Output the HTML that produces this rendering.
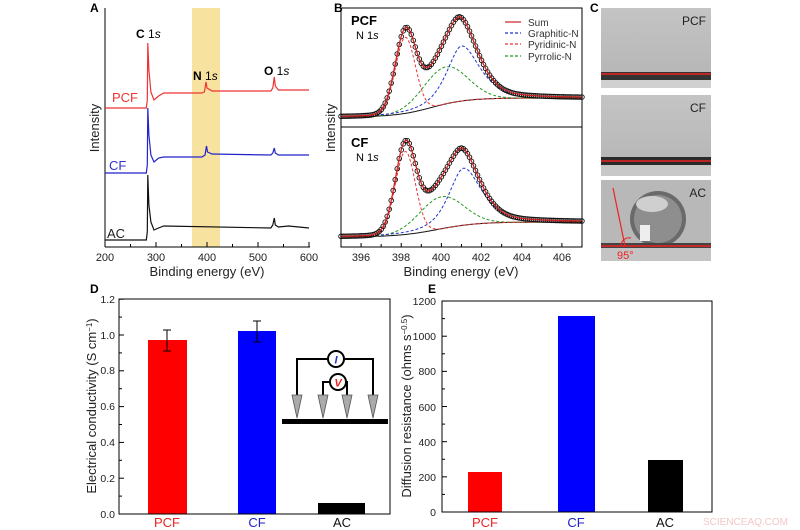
<!DOCTYPE html>
<html><head><meta charset="utf-8"><style>
body{margin:0;background:#fff}
svg{display:block;font-family:"Liberation Sans",Arial,sans-serif}
</style></head><body>
<svg id="s" width="800" height="530" viewBox="0 0 800 530" xmlns="http://www.w3.org/2000/svg">
<g font-weight="bold" font-size="12" fill="#000">
<text x="90" y="12">A</text><text x="334" y="12">B</text><text x="590" y="12">C</text>
<text x="90" y="293">D</text><text x="428" y="293">E</text>
</g>
<!-- Panel A -->
<rect x="192" y="8" width="28" height="239" fill="#f8e2a0"/>
<g stroke="#000" stroke-width="1" fill="none">
<line x1="105" y1="8" x2="105" y2="247"/><line x1="105" y1="247" x2="310" y2="247"/>
</g>
<g id="aticks" stroke="#000"></g>
<g font-size="11" fill="#222" text-anchor="middle">
<text x="105" y="261">200</text><text x="156" y="261">300</text><text x="207" y="261">400</text><text x="258" y="261">500</text><text x="309" y="261">600</text>
<text x="207" y="276" font-size="13">Binding energy (eV)</text>
</g>
<text transform="translate(99,128) rotate(-90)" font-size="13" text-anchor="middle" fill="#222">Intensity</text>
<g id="aspec" fill="none" stroke-width="1.2"></g>
<text x="112" y="102" fill="#e33" font-size="13">PCF</text>
<text x="109" y="170" fill="#33c" font-size="13">CF</text>
<text x="107" y="238" fill="#222" font-size="13">AC</text>
<text x="136" y="38" font-size="12"><tspan font-weight="bold">C</tspan> 1<tspan font-style="italic">s</tspan></text>
<text x="193" y="80" font-size="12"><tspan font-weight="bold">N</tspan> 1<tspan font-style="italic">s</tspan></text>
<text x="264" y="75" font-size="12"><tspan font-weight="bold">O</tspan> 1<tspan font-style="italic">s</tspan></text>
<!-- Panel B -->
<g id="bplot"></g>
<rect x="341" y="8" width="241" height="239" fill="none" stroke="#000"/>
<line x1="341" y1="127" x2="582" y2="127" stroke="#000"/>
<g id="bticks" stroke="#000"></g>
<g font-size="11" fill="#222" text-anchor="middle">
<text x="361" y="261">396</text><text x="401" y="261">398</text><text x="441" y="261">400</text><text x="481" y="261">402</text><text x="522" y="261">404</text><text x="562" y="261">406</text>
<text x="461" y="276" font-size="13">Binding energy (eV)</text>
</g>
<text transform="translate(335,128) rotate(-90)" font-size="13" text-anchor="middle" fill="#222">Intensity</text>
<text x="351" y="25" font-size="13" font-weight="bold">PCF</text>
<text x="356" y="39" font-size="11">N 1<tspan font-style="italic">s</tspan></text>
<text x="351" y="147" font-size="13" font-weight="bold">CF</text>
<text x="356" y="161" font-size="11">N 1<tspan font-style="italic">s</tspan></text>
<g font-size="10" fill="#333">
<line x1="505" y1="22" x2="521" y2="22" stroke="#c22" stroke-width="1.2"/><text x="528" y="26">Sum</text>
<line x1="505" y1="33" x2="521" y2="33" stroke="#23c" stroke-dasharray="3,2" stroke-width="1.2"/><text x="528" y="37">Graphitic-N</text>
<line x1="505" y1="44" x2="521" y2="44" stroke="#e33" stroke-dasharray="3,2" stroke-width="1.2"/><text x="528" y="48">Pyridinic-N</text>
<line x1="505" y1="56" x2="521" y2="56" stroke="#292" stroke-dasharray="3,2" stroke-width="1.2"/><text x="528" y="60">Pyrrolic-N</text>
</g>
<!-- Panel C -->
<defs>
<linearGradient id="g1" x1="0" y1="0" x2="0" y2="1"><stop offset="0" stop-color="#c4c4c4"/><stop offset="1" stop-color="#b4b4b4"/></linearGradient>
</defs>
<rect x="601" y="8" width="110" height="80" fill="url(#g1)"/>
<rect x="601" y="72" width="110" height="8" fill="#333"/>
<rect x="601" y="80" width="110" height="8" fill="#d0d0d0"/>
<line x1="601" y1="74" x2="711" y2="74" stroke="#e22" stroke-width="1.5"/>
<text x="706" y="25" font-size="12" text-anchor="end" fill="#222">PCF</text>
<rect x="601" y="95" width="110" height="81" fill="url(#g1)"/>
<rect x="601" y="157" width="110" height="8" fill="#2a2a2a"/>
<rect x="601" y="165" width="110" height="11" fill="#c8c8c8"/>
<line x1="601" y1="161" x2="711" y2="161" stroke="#e22" stroke-width="1.5"/>
<text x="706" y="112" font-size="12" text-anchor="end" fill="#222">CF</text>
<rect x="601" y="180" width="110" height="81" fill="#b8b8b8"/>
<clipPath id="cl"><rect x="601" y="180" width="110" height="66"/></clipPath>
<g clip-path="url(#cl)">
<circle cx="658" cy="219" r="28" fill="#6a6a6a"/>
<circle cx="658" cy="219" r="24" fill="#8e8e8e"/>
<ellipse cx="652" cy="204" rx="16" ry="8" fill="#cfcfcf"/>
<rect x="640" y="225" width="10" height="16" fill="#eee"/>
</g>
<rect x="601" y="243" width="110" height="5" fill="#444"/>
<rect x="601" y="248" width="110" height="13" fill="#c4c4c4"/>
<line x1="601" y1="246" x2="711" y2="246" stroke="#e22" stroke-width="1.5"/>
<line x1="613" y1="188" x2="625" y2="246" stroke="#e22" stroke-width="1.2"/>
<path d="M621 246 A8 8 0 0 1 631 238" fill="none" stroke="#e22"/>
<text x="617" y="259" font-size="11" fill="#e22">95°</text>
<text x="706" y="197" font-size="12" text-anchor="end" fill="#222">AC</text>
<!-- Panel D -->
<rect x="148" y="340" width="39" height="174" fill="#f00"/>
<rect x="238" y="331" width="38" height="183" fill="#00f"/>
<rect x="318" y="503" width="47" height="11" fill="#000"/>
<g stroke="#000">
<line x1="167" y1="330" x2="167" y2="351"/><line x1="163" y1="330" x2="171" y2="330"/><line x1="163" y1="351" x2="171" y2="351"/>
<line x1="257" y1="321" x2="257" y2="342"/><line x1="253" y1="321" x2="261" y2="321"/><line x1="253" y1="342" x2="261" y2="342"/>
</g>
<rect x="119" y="299" width="271" height="215" fill="none" stroke="#000"/>
<g id="dticks" stroke="#000"></g>
<g font-size="10.5" fill="#222" text-anchor="end">
<text x="115" y="518">0.0</text><text x="115" y="482">0.2</text><text x="115" y="446">0.4</text><text x="115" y="410">0.6</text><text x="115" y="374">0.8</text><text x="115" y="339">1.0</text><text x="115" y="303">1.2</text>
</g>
<text transform="translate(96,406) rotate(-90)" font-size="13" text-anchor="middle" fill="#222">Electrical conductivity (S cm<tspan baseline-shift="super" font-size="8">−1</tspan>)</text>
<g font-size="13" text-anchor="middle">
<text x="167" y="527" fill="#e22">PCF</text><text x="257" y="527" fill="#22c">CF</text><text x="342" y="527" fill="#111">AC</text>
</g>
<g stroke="#000" stroke-width="2" fill="none">
<path d="M297 395 V359 H373 V395"/>
<path d="M323 395 V382 H347 V395"/>
</g>
<circle cx="336" cy="359" r="8" fill="#fff" stroke="#000" stroke-width="2"/>
<circle cx="338" cy="382" r="8" fill="#fff" stroke="#000" stroke-width="2"/>
<text x="336" y="363.5" font-size="11" font-style="italic" font-weight="bold" fill="#23c" text-anchor="middle">I</text>
<text x="338" y="386.5" font-size="11" font-style="italic" font-weight="bold" fill="#e22" text-anchor="middle">V</text>
<g fill="#aaa" stroke="#555" stroke-width="0.8">
<path d="M292 395 H302 L297 418 Z"/><path d="M318 395 H328 L323 418 Z"/><path d="M342 395 H352 L347 418 Z"/><path d="M368 395 H378 L373 418 Z"/>
</g>
<rect x="282" y="419" width="106" height="5" fill="#000"/>
<!-- Panel E -->
<rect x="468" y="472" width="34" height="40" fill="#f00"/>
<rect x="558" y="316" width="37" height="196" fill="#00f"/>
<rect x="648" y="460" width="35" height="52" fill="#000"/>
<rect x="442" y="301" width="270" height="211" fill="none" stroke="#000"/>
<g id="eticks" stroke="#000"></g>
<g font-size="10.5" fill="#222" text-anchor="end">
<text x="436" y="516">0</text><text x="436" y="481">200</text><text x="436" y="446">400</text><text x="436" y="411">600</text><text x="436" y="375">800</text><text x="436" y="340">1000</text><text x="436" y="305">1200</text>
</g>
<text transform="translate(411,406) rotate(-90)" font-size="13" text-anchor="middle" fill="#222">Diffusion resistance (ohms s<tspan baseline-shift="super" font-size="8">−0.5</tspan>)</text>
<g font-size="13" text-anchor="middle">
<text x="485" y="527" fill="#e22">PCF</text><text x="576" y="527" fill="#22c">CF</text><text x="665" y="527" fill="#111">AC</text>
</g>
<text x="703" y="525" font-size="10" fill="#f3c6c6">SCIENCEAQ.COM</text>
</svg>
<script>
var NS="http://www.w3.org/2000/svg";
function el(p,t,a){var e=document.createElementNS(NS,t);for(var k in a)e.setAttribute(k,a[k]);document.getElementById(p).appendChild(e);return e;}
for(var E=200;E<=600;E+=50){var x=105+(E-200)*0.51;el("aticks","line",{x1:x,x2:x,y1:247,y2:E%100?244:242});}
function poly(pts,xf){return "M"+pts.map(function(p){return xf(p[0]).toFixed(1)+","+p[1];}).join(" L");}
var ax=function(E){return 105+(E-200)*0.51;};
var PCF=[[200,108],[281,108],[283,100],[284,43],[286,70],[290,92],[296,100],[305,96],[315,93],[390,93],[395,92],[398,82],[400,88],[410,91],[450,91],[525,91],[529,88],[532,77],[534,86],[540,90],[600,90]];
var CF=[[200,173],[281,173],[283,165],[284,108],[286,135],[290,155],[296,162],[305,158],[315,157],[390,157],[396,155],[399,146],[401,152],[410,154],[525,155],[529,153],[532,148],[534,153],[540,155],[600,155]];
var AC=[[200,240],[281,240],[283,232],[284,175],[286,205],[290,222],[296,230],[305,228],[315,226],[525,228],[529,225],[532,218],[534,225],[540,227],[560,226],[600,228]];
el("aspec","path",{d:poly(PCF,ax),stroke:"#e33"});
el("aspec","path",{d:poly(CF,ax),stroke:"#22c"});
el("aspec","path",{d:poly(AC,ax),stroke:"#111"});
var bx=function(E){return 341+(E-395)*20.08;};
for(var E=395;E<=407;E+=1){el("bticks","line",{x1:bx(E),x2:bx(E),y1:247,y2:E%2?244:243});}
function sig(z){return 1/(1+Math.exp(-z));}
function panel(bg,r,b,g){
 var comps={bg:[],r:[],b:[],g:[],s:[]};
 for(var E=395;E<=407.001;E+=0.05){
  var B=bg(E);
  var R=r[0]*Math.exp(-Math.pow(E-r[1],2)/(2*r[2]*r[2]));
  var w=E>b[1]?b[2]*1.25:b[2];
  var Bl=b[0]*(0.6/(1+Math.pow((E-b[1])/w,2))+0.4*Math.exp(-Math.pow(E-b[1],2)/(2*w*w*0.9)));
  var G=g[0]*Math.exp(-Math.pow(E-g[1],2)/(2*g[2]*g[2]));
  var x=bx(E);
  comps.bg.push([x,B]);comps.r.push([x,B-R]);comps.b.push([x,B-Bl]);comps.g.push([x,B-G]);comps.s.push([x,B-R-Bl-G]);
 }
 function d(a){return "M"+a.map(function(p){return p[0].toFixed(1)+","+p[1].toFixed(1);}).join(" L");}
 el("bplot","path",{d:d(comps.bg),stroke:"#111",fill:"none","stroke-width":1});
 el("bplot","path",{d:d(comps.g),stroke:"#292",fill:"none","stroke-dasharray":"3,2","stroke-width":1});
 el("bplot","path",{d:d(comps.b),stroke:"#23c",fill:"none","stroke-dasharray":"3,2","stroke-width":1});
 el("bplot","path",{d:d(comps.r),stroke:"#e33",fill:"none","stroke-dasharray":"3,2","stroke-width":1});
 for(var i=0;i<comps.s.length;i+=2){el("bplot","circle",{cx:comps.s[i][0],cy:comps.s[i][1],r:2.3,fill:"none",stroke:"#111","stroke-width":0.9});}
 el("bplot","path",{d:d(comps.s),stroke:"#c22",fill:"none","stroke-width":1.3});
}
panel(function(E){return 117-19*sig((E-399.5)/0.9);},[76,398.2,0.5],[55,401.0,0.8],[37,400.2,1.1]);
panel(function(E){return 237-15*sig((E-399.8)/1.0);},[83,398.2,0.5],[57,401.1,0.8],[32,400.0,1.1]);
for(var v=0;v<=1.2001;v+=0.1){var y=514-v*179;el("dticks","line",{x1:119,x2:(Math.round(v*10)%2?122:124),y1:y,y2:y});}
for(var v=0;v<=1200;v+=100){var y=512-v*0.1758;el("eticks","line",{x1:442,x2:(v%200?445:447),y1:y,y2:y});}
</script>
</body></html>
